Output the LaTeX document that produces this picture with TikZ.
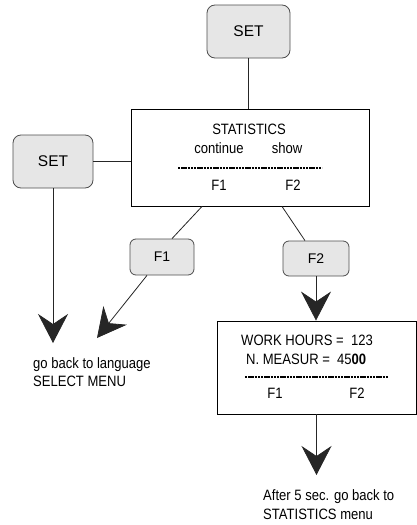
\documentclass[tikz,border=0pt]{standalone}
\usepackage{fontspec}
\setmainfont{Liberation Sans}
\newfontfamily\narrowsans[FakeStretch=0.87]{Liberation Sans}
\usetikzlibrary{arrows.meta,calc}
\definecolor{keyfill}{HTML}{E6E6E6}
\definecolor{keyline}{HTML}{4D4D4D}

\begin{document}
\begin{tikzpicture}[x=1pt,y=-1pt,
  key/.style={draw=keyline, fill=keyfill, rounded corners=8pt, line width=0.8pt,
              font=\fontsize{15.5}{18}\selectfont, inner sep=0pt},
  fkey/.style={key, rounded corners=6pt, font=\fontsize{14}{17}\selectfont},
  panel/.style={draw=black, line width=0.9pt, inner sep=0pt},
  label/.style={font=\narrowsans\fontsize{15}{18}\selectfont, inner sep=0pt},
  link/.style={draw=black!85, line width=0.8pt},
  flow/.style={link, -{Stealth[length=29pt,width=30pt,inset=10pt]}},
  sep/.style={line width=1.3pt, dash pattern=on 2.4pt off 0.8pt}]

\useasboundingbox (0,0) rectangle (417,525);

% keys and display panels
\node[key, minimum width=83pt, minimum height=53pt] (setT) at (248.5,31.5) {SET};
\node[key, minimum width=80pt, minimum height=53pt] (setL) at (53,161.5) {SET};
\node[panel, minimum width=238pt, minimum height=97pt] (stats) at (250,157.5) {};
\node[fkey, minimum width=64pt, minimum height=36pt] (f1) at (162,257) {F1};
\node[fkey, minimum width=66pt, minimum height=35pt] (f2) at (316,258.5) {F2};
\node[panel, minimum width=199pt, minimum height=93pt] (work) at (316.5,367.5) {};

% statistics display contents
\node[label, anchor=base] (stTitle) at (249,134) {STATISTICS};
\node[label, anchor=base] (stCont) at (219,153) {continue};
\node[label, anchor=base] (stShow) at (287,153) {show};
\draw[sep] (178,168) -- (322,168);
\node[label, anchor=base] (stF1) at (219,190) {F1};
\node[label, anchor=base] (stF2) at (293,190) {F2};

% counters display contents
\node[label, anchor=base west] (wkHours) at (241,345) {WORK HOURS =\ \ 123};
\node[label, anchor=base west] (wkMeas) at (246,364) {N. MEASUR =\ \ 45\textbf{00}};
\draw[sep] (245,377) -- (388,377);
\node[label, anchor=base] (wkF1) at (275,398) {F1};
\node[label, anchor=base] (wkF2) at (357,398) {F2};

% notes
\node[label, anchor=base west] (noteA1) at (33,368) {go back to language};
\node[label, anchor=base west] (noteA2) at (33,386) {SELECT MENU};
\node[label, anchor=base west] (noteB1) at (263,500) {After 5 sec. go back to};
\node[label, anchor=base west] (noteB2) at (263,519) {STATISTICS menu};

% arrow tips
\coordinate (tipL) at (53,343);
\coordinate (tipF1) at (97,338);
\coordinate (tipW) at (316.5,475);

% connectors
\draw[link] (setT.south) -- (setT.south |- stats.north);
\draw[link] (setL.east) -- (setL.east -| stats.west);
\draw[flow] (setL.south) -- (tipL);
\draw[link] ($(stats.south)+(-48,0)$) -- ($(f1.north)+(10,0)$);
\draw[link] ($(stats.south)+(32,0)$) -- ($(f2.north)+(-11,0)$);
\draw[flow] ($(f1.south)+(-15,0)$) -- (tipF1);
\draw[flow] (f2.south) -- (f2.south |- work.north);
\draw[flow] (work.south) -- (tipW);
\end{tikzpicture}
\end{document}
